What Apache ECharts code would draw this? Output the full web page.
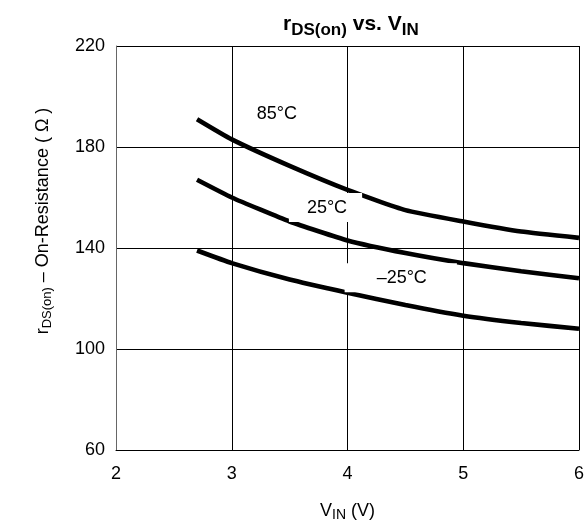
<!DOCTYPE html>
<html>
<head>
<meta charset="utf-8">
<script src="https://cdn.jsdelivr.net/npm/echarts@6/dist/echarts.min.js"></script>
<style>html,body{margin:0;padding:0;background:#fff}#c{width:586px;height:523px}</style>
</head>
<body>
<div id="c"></div>
<script>
const vin = [2.7, 3, 3.5, 4, 4.5, 5, 5.5, 6];
const r85 = [191, 183, 172.5, 163, 155, 150.5, 146.5, 144];
const r25 = [167, 160, 150.5, 143, 138, 134, 130.8, 128];
const rm25 = [139, 134, 127.5, 122.3, 117.4, 113.2, 110.3, 108];
const xTicks = [2, 3, 4, 5, 6];
const yTicks = [60, 100, 140, 180, 220];
const curveLabels = ['85°C', '25°C', '–25°C'];
const labelX = [3.39, 3.81, 4.46];
const labelY = [193.1, 156.0, 128.2];

const font = 'Liberation Sans, Arial, sans-serif';
function pairs(ys){ return vin.map((v,i)=>[v, ys[i]]); }
function lineSeries(name, ys){
  return {name, type:'line', data:pairs(ys), showSymbol:false, smooth:0.15, z:3,
    lineStyle:{color:'#000', width:4.6}, silent:true};
}
const pads = [0, [4,15,7,18], [3,30,8,32]];
const chart = echarts.init(document.getElementById('c'), null, {renderer:'canvas'});
chart.setOption({
  animation:false,
  backgroundColor:'#fff',
  title:{
    text:'{b|r}{s|DS(on)}{b| vs. V}{s|IN}',
    left:278, top:9,
    textStyle:{fontFamily:font, rich:{
      b:{fontFamily:font, fontSize:21, fontWeight:'bold', color:'#000', verticalAlign:'top'},
      s:{fontFamily:font, fontSize:17, fontWeight:'bold', color:'#000', padding:[8,0,0,0], verticalAlign:'top'}
    }}
  },
  grid:{left:116, top:46, width:463, height:404, outerBoundsMode:'none', containLabel:false, show:false},
  xAxis:{type:'value', min:xTicks[0], max:xTicks[xTicks.length-1], interval:1,
    name:'{a|V}{s|IN}{a| (V)}', nameLocation:'middle', nameGap:50,
    nameTextStyle:{fontFamily:font, rich:{
      a:{fontFamily:font, fontSize:18, color:'#000'},
      s:{fontFamily:font, fontSize:14, color:'#000', padding:[8,0,0,0]}
    }},
    axisLine:{lineStyle:{color:'#000', width:1}},
    axisTick:{show:false},
    axisLabel:{color:'#000', fontFamily:font, fontSize:18, margin:15},
    splitLine:{show:true, lineStyle:{color:'#000', width:1}}
  },
  yAxis:{type:'value', min:yTicks[0], max:yTicks[yTicks.length-1], interval:40,
    name:'{a|r}{s|DS(on)}{a| – On-Resistance ( Ω )}', nameLocation:'middle', nameGap:62, nameRotate:90,
    nameTextStyle:{fontFamily:font, padding:[0,0,0,54], rich:{
      a:{fontFamily:font, fontSize:18, color:'#000'},
      s:{fontFamily:font, fontSize:13, color:'#000', padding:[8,0,0,0]}
    }},
    axisLine:{show:true, lineStyle:{color:'#666', width:1}},
    axisTick:{show:false},
    axisLabel:{color:'#000', fontFamily:font, fontSize:18, margin:11},
    splitLine:{show:true, lineStyle:{color:'#000', width:1}}
  },
  series:[
    lineSeries('85°C', r85),
    lineSeries('25°C', r25),
    lineSeries('-25°C', rm25),
    {type:'scatter', z:10, symbolSize:0, silent:true, itemStyle:{opacity:1},
      data:curveLabels.map((t,i)=>({value:[labelX[i], labelY[i]], name:t,
        label:{show:true, position:'inside', formatter:t, color:'#000', opacity:1, textBorderWidth:0,
          fontFamily:font, fontSize:18,
          backgroundColor: i===0 ? 'transparent' : '#fff', padding: pads[i]}}))
    }
  ]
});
</script>
</body>
</html>
